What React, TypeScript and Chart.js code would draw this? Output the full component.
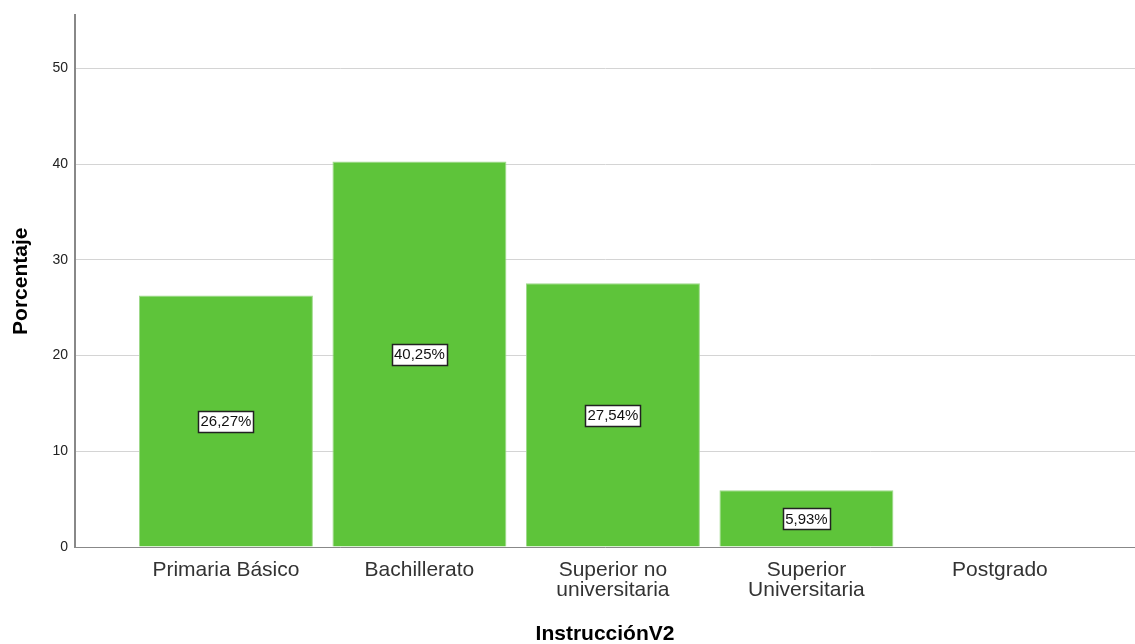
import React, { useEffect, useRef } from "react";
import { Chart, registerables } from "chart.js";

Chart.register(...registerables);

const categories: (string | string[])[] = [
  "Primaria Básico",
  "Bachillerato",
  ["Superior no", "universitaria"],
  ["Superior", "Universitaria"],
  "Postgrado",
];
const percentages = [26.27, 40.25, 27.54, 5.93, 0];
const yTicks = [0, 10, 20, 30, 40, 50];
const yTitle = "Porcentaje";
const xTitle = "InstrucciónV2";

const FONT = '"Liberation Sans", Arial, sans-serif';

const labelPlugin = {
  id: "boxLabels",
  afterDatasetsDraw(chart: any) {
    const ctx = chart.ctx;
    const meta = chart.getDatasetMeta(0);
    const yScale = chart.scales.y;
    ctx.save();
    ctx.font = "15px " + FONT;
    ctx.textAlign = "center";
    ctx.textBaseline = "middle";
    meta.data.forEach((bar: any, i: number) => {
      const v = percentages[i];
      if (!v) return;
      const text = v.toFixed(2).replace(".", ",") + "%";
      const cx = bar.x;
      const cy = yScale.getPixelForValue(v / 2);
      const w = Math.round(ctx.measureText(text).width + 4);
      const h = 21;
      const x0 = Math.round(cx - w / 2) + 0.5;
      const y0 = Math.round(cy - h / 2) + 0.5;
      ctx.fillStyle = "#ffffff";
      ctx.fillRect(x0, y0, w, h);
      ctx.strokeStyle = "#222222";
      ctx.lineWidth = 1.5;
      ctx.strokeRect(x0, y0, w, h);
      ctx.fillStyle = "#111111";
      ctx.fillText(text, cx, cy + 1);
    });
    ctx.restore();
  },
};

export default function App() {
  const ref = useRef<HTMLCanvasElement>(null);
  useEffect(() => {
    document.body.style.margin = "0";
    const chart = new Chart(ref.current!, {
      type: "bar",
      data: {
        datasets: [
          {
            data: percentages.map((v, i) => ({ x: i, y: v })) as any,
            backgroundColor: "#5ec43a",
            borderColor: "#9ed98a",
            borderWidth: 1,
            barPercentage: 0.899,
            categoryPercentage: 1,
          },
        ],
      },
      options: {
        animation: false,
        responsive: false,
        maintainAspectRatio: false,
        layout: { padding: { top: 14, left: 0, right: 0, bottom: 0 } },
        plugins: { legend: { display: false }, tooltip: { enabled: false } },
        scales: {
          x: {
            type: "linear",
            offset: false,
            min: -0.78,
            max: 4.698,
            afterBuildTicks: (scale: any) => {
              scale.ticks = categories.map((_, i) => ({ value: i }));
            },
            afterFit: (scale: any) => {
              scale.height = 97;
            },
            grid: { display: false, drawTicks: false, offset: false },
            border: { display: true, color: "#888888", width: 1 },
            ticks: {
              autoSkip: false,
              maxRotation: 0,
              padding: 14,
              color: "#333333",
              font: { family: FONT, size: 21, lineHeight: 0.92 },
              callback: (v: any) => categories[v as number] ?? "",
            },
            title: {
              display: true,
              text: xTitle,
              color: "#000000",
              font: { family: FONT, size: 21, weight: "bold" },
              padding: { top: 0, bottom: -3 },
            },
          },
          y: {
            min: 0,
            max: 55.52,
            afterBuildTicks: (scale: any) => {
              scale.ticks = yTicks.map((v) => ({ value: v }));
            },
            afterFit: (scale: any) => {
              scale.width = 75;
            },
            grid: { color: "#d4d4d4", drawTicks: false, lineWidth: 1 },
            border: { display: true, color: "#888888", width: 2 },
            ticks: {
              padding: 7,
              color: "#222222",
              font: { family: FONT, size: 14 },
            },
            title: {
              display: true,
              text: yTitle,
              color: "#000000",
              font: { family: FONT, size: 21, weight: "bold" },
              padding: { top: 9, bottom: 0 },
            },
          },
        },
      },
      plugins: [labelPlugin],
    });
    return () => chart.destroy();
  }, []);
  return (
    <div style={{ width: 1135, height: 644 }}>
      <canvas ref={ref} width={1135} height={644} style={{ display: "block" }} />
    </div>
  );
}
